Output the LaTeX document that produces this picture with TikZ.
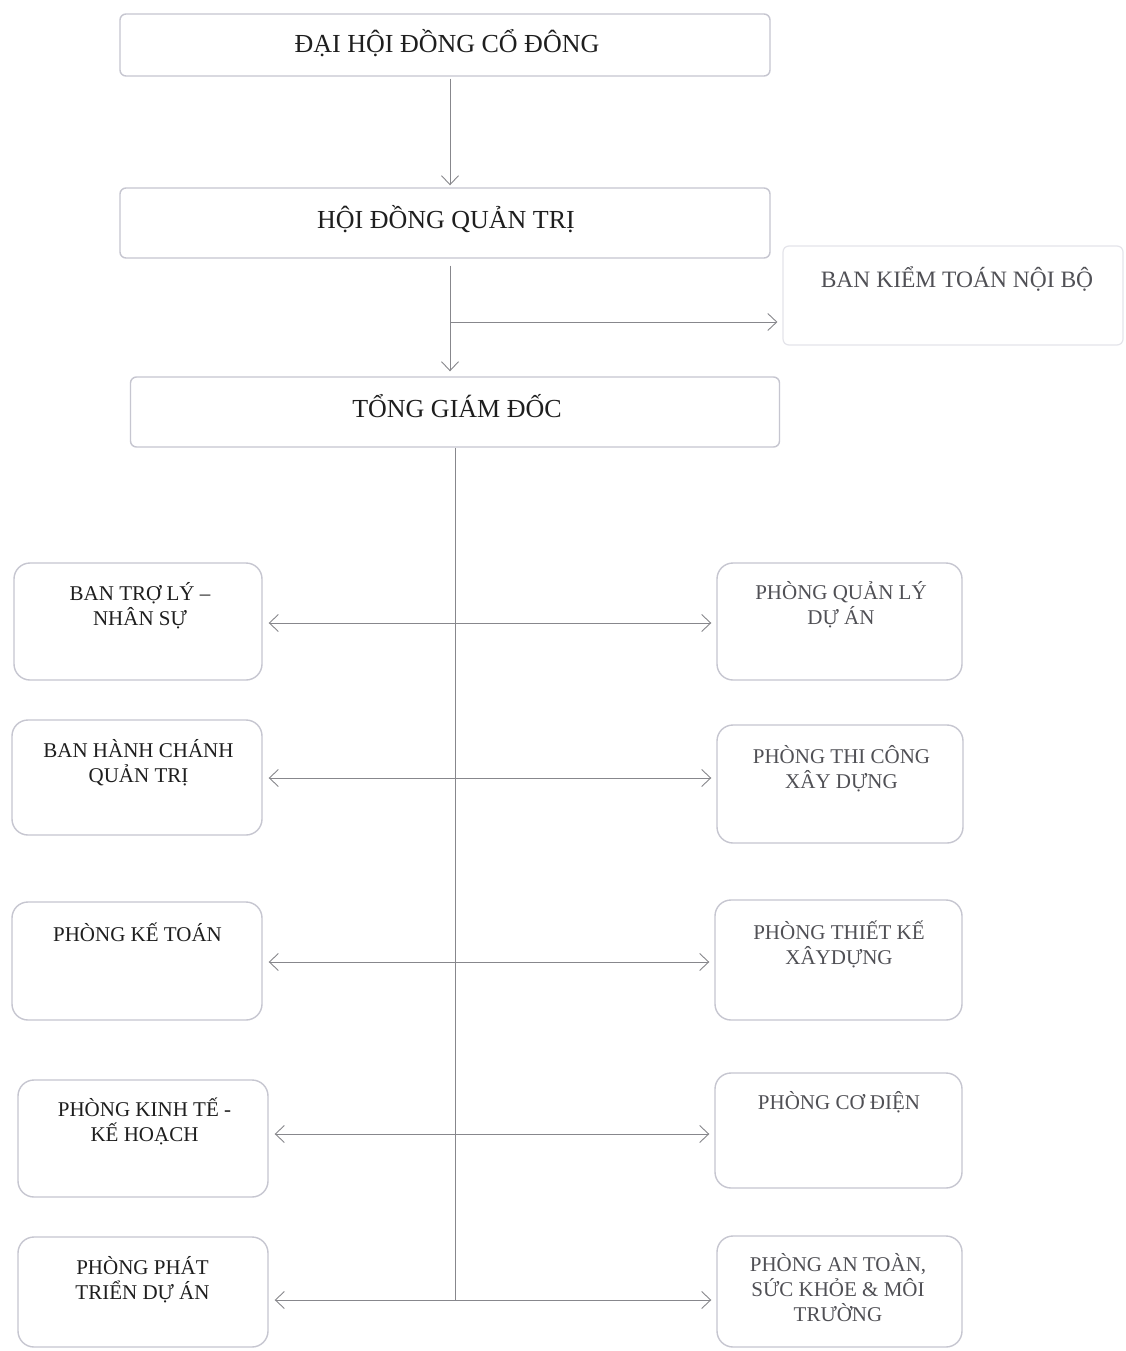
\documentclass[tikz,border=0pt]{standalone}
\usepackage{fontspec}
\setmainfont{Liberation Serif}
\usetikzlibrary{arrows.meta}
\definecolor{boxc}{RGB}{198,198,208}
\definecolor{boxf}{RGB}{228,228,234}
\definecolor{linec}{RGB}{135,135,140}
\definecolor{txtL}{RGB}{30,30,30}
\definecolor{txtR}{RGB}{80,80,85}
\begin{document}
\begin{tikzpicture}[x=1pt,y=-1pt,
  box/.style={draw=boxc,line width=1.4pt,rounded corners=#1,inner sep=0pt},
  box/.default=16pt,
  big/.style={font=\fontsize{26}{30}\selectfont,text=txtL,inner sep=0pt},
  lt/.style={font=\fontsize{21}{25}\selectfont,text=txtL,inner sep=0pt,align=center},
  rt/.style={font=\fontsize{21}{25}\selectfont,text=txtR,inner sep=0pt,align=center},
  conn/.style={draw=linec,line width=0.9pt,-{Straight Barb[length=9pt,width=17pt,line width=0.9pt]}},
  plain/.style={draw=linec,line width=0.9pt}]
\useasboundingbox (0,0) rectangle (1125,1351);
\fill[white] (0,0) rectangle (1125,1351);

% top boxes
\node[box=6pt,minimum width=650pt,minimum height=62pt] (dh) at (445,45) {};
\node[big,anchor=base] (dht) at (447,52.6) {ĐẠI HỘI ĐỒNG CỔ ĐÔNG};
\node[box=6pt,minimum width=650pt,minimum height=70pt] (hd) at (445,223) {};
\node[big,anchor=base] (hdt) at (446,228.6) {HỘI ĐỒNG QUẢN TRỊ};
\node[draw=boxf,line width=1.2pt,rounded corners=6pt,inner sep=0pt,minimum width=340pt,minimum height=99pt] (au) at (953,295.5) {};
\node[font=\fontsize{23.5}{28}\selectfont,text=txtR,inner sep=0pt,anchor=base] (aut) at (957,287.8) {BAN KIỂM TOÁN NỘI BỘ};
\node[box=6pt,minimum width=649pt,minimum height=70pt] (ceo) at (455,412) {};
\node[big,anchor=base] (ceot) at (457,417.6) {TỔNG GIÁM ĐỐC};

% left boxes
\node[box,minimum width=248pt,minimum height=117pt] (L1) at (138,621.5) {};
\node[lt,anchor=base] (L1t) at (140,625) {BAN TRỢ LÝ –\\NHÂN SỰ};
\node[box,minimum width=250pt,minimum height=115pt] (L2) at (137,777.5) {};
\node[lt,anchor=base] (L2t) at (138.5,782) {BAN HÀNH CHÁNH\\QUẢN TRỊ};
\node[box,minimum width=250pt,minimum height=118pt] (L3) at (137,961) {};
\node[lt,anchor=base] (L3t) at (137.5,941) {PHÒNG KẾ TOÁN};
\node[box,minimum width=250pt,minimum height=117pt] (L4) at (143,1138.5) {};
\node[lt,anchor=base] (L4t) at (144.5,1141) {PHÒNG KINH TẾ -\\KẾ HOẠCH};
\node[box,minimum width=250pt,minimum height=110pt] (L5) at (143,1292) {};
\node[lt,anchor=base] (L5t) at (142.5,1299) {PHÒNG PHÁT\\TRIỂN DỰ ÁN};

% right boxes
\node[box,minimum width=245pt,minimum height=117pt] (R1) at (839.5,621.5) {};
\node[rt,anchor=base] (R1t) at (841,624) {PHÒNG QUẢN LÝ\\DỰ ÁN};
\node[box,minimum width=246pt,minimum height=118pt] (R2) at (840,784) {};
\node[rt,anchor=base] (R2t) at (841.5,788) {PHÒNG THI CÔNG\\XÂY DỰNG};
\node[box,minimum width=247pt,minimum height=120pt] (R3) at (838.5,960) {};
\node[rt,anchor=base] (R3t) at (839,964) {PHÒNG THIẾT KẾ\\XÂYDỰNG};
\node[box,minimum width=247pt,minimum height=115pt] (R4) at (838.5,1130.5) {};
\node[rt,anchor=base] (R4t) at (839,1109) {PHÒNG CƠ ĐIỆN};
\node[box,minimum width=245pt,minimum height=111pt] (R5) at (839.5,1291.5) {};
\node[rt,anchor=base] (R5t) at (838,1321) {PHÒNG AN TOÀN,\\SỨC KHỎE \& MÔI\\TRƯỜNG};

% upper connectors
\draw[conn,shorten >=2pt,shorten <=2pt] ([xshift=5pt]dh.south) -- ([xshift=5pt]dh.south |- hd.north);
\draw[conn,shorten >=5pt,shorten <=7pt] ([xshift=5pt]hd.south) -- ([xshift=5pt]hd.south |- ceo.north);
\coordinate (br) at (450,322);
\draw[conn,shorten >=5pt] (br) -- (br -| au.west);

% trunk and branches
\coordinate (j1) at (455,623);
\coordinate (j2) at (455,778);
\coordinate (j3) at (455,962);
\coordinate (j4) at (455,1134);
\coordinate (j5) at (455,1300);
\draw[plain] (ceo.south) -- (j5);
\foreach \k in {1,...,5}{
  \draw[conn,shorten >=6pt] (j\k) -- (j\k -| L\k.east);
  \draw[conn,shorten >=5pt] (j\k) -- (j\k -| R\k.west);
}
\end{tikzpicture}
\end{document}
